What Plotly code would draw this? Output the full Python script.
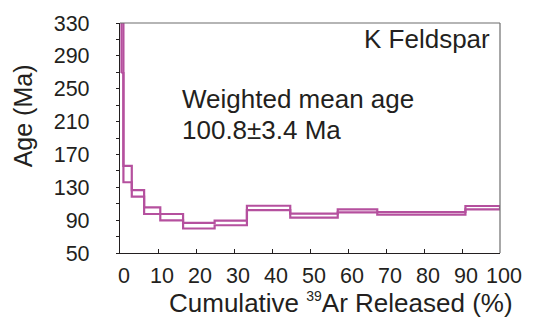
import plotly.graph_objects as go

# Step-heating age spectrum, K-feldspar: each heating step spans a range of
# cumulative 39Ar released, with the upper/lower bounds of its apparent age.
step_start = 0.4
step_end = [0.9, 3.1, 6.35, 10.6, 16.6, 24.9, 33.4, 44.8, 57.3, 67.7, 90.9, 100.0]
age_upper = [345.0, 156.1, 126.5, 105.5, 97.5, 86.7, 89.4, 107.5, 97.9, 103.1, 99.9, 107.2]
age_lower = [269.1, 136.1, 118.7, 97.5, 89.8, 79.8, 83.8, 102.3, 93.0, 99.4, 96.7, 103.1]

y_ticks = [50, 90, 130, 170, 210, 250, 290, 330]
x_ticks = [0, 10, 20, 30, 40, 50, 60, 70, 80, 90, 100]

mineral = "K Feldspar"
mean_label = "Weighted mean age"
mean_value = "100.8±3.4 Ma"

LINE = "#b5509e"
INK = "#231f20"
FONT = "Liberation Sans, Arial, Helvetica, sans-serif"

xs = [step_start] + step_end

fig = go.Figure()
for ages in (age_upper, age_lower):
    fig.add_trace(go.Scatter(
        x=xs, y=ages + [ages[-1]], mode="lines", line_shape="hv",
        line=dict(color=LINE, width=2.2), hoverinfo="skip", showlegend=False,
    ))
# close the spectrum at both ends
fig.add_trace(go.Scatter(x=[step_start, step_start], y=[age_lower[0], age_upper[0]],
                         mode="lines", line=dict(color=LINE, width=2.2),
                         hoverinfo="skip", showlegend=False))
fig.add_trace(go.Scatter(x=[step_end[-1], step_end[-1]], y=[age_lower[-1], age_upper[-1]],
                         mode="lines", line=dict(color=LINE, width=2.2),
                         hoverinfo="skip", showlegend=False))

fig.update_layout(
    width=536, height=328,
    margin=dict(l=120, r=36, t=21, b=75),
    paper_bgcolor="white", plot_bgcolor="white",
    font=dict(family=FONT, color=INK),
    xaxis=dict(
        range=[0, 100], tickvals=x_ticks, ticktext=[str(v) for v in x_ticks],
        ticks="inside", ticklen=4, tickcolor=INK, tickwidth=1,
        showline=True, linecolor=INK, linewidth=1.3, showgrid=False, zeroline=False,
        tickfont=dict(size=21.5, color=INK), ticklabelstandoff=3, ticklabelshift=4,
    ),
    yaxis=dict(
        range=[50, 330], tickvals=y_ticks, ticktext=[str(v) for v in y_ticks],
        ticks="outside", ticklen=3, tickcolor=INK, tickwidth=1,
        minor=dict(tickvals=list(range(50, 331, 20)), ticks="outside", ticklen=3,
                   tickcolor=INK, tickwidth=1, showgrid=False),
        showline=True, linecolor=INK, linewidth=1.3, showgrid=False, zeroline=False,
        tickfont=dict(size=21.5, color=INK), ticklabelstandoff=22,
    ),
    shapes=[
        dict(type="line", xref="paper", yref="paper", x0=0, x1=1, y0=1, y1=1,
             line=dict(color="#6d6d6d", width=1.2)),
        dict(type="line", xref="paper", yref="paper", x0=1, x1=1, y0=0, y1=1,
             line=dict(color="#6d6d6d", width=1.2)),
    ],
    annotations=[
        dict(text="Cumulative <sup><span style='font-size:14px'>39</span></sup>Ar Released (%)",
             xref="paper", yref="paper",
             x=0.581, y=-0.218, xanchor="center", yanchor="middle", showarrow=False,
             font=dict(size=26, color=INK)),
        dict(text="Age (Ma)", xref="paper", yref="paper", textangle=-90,
             x=-0.253, y=0.598, xanchor="center", yanchor="middle", showarrow=False,
             font=dict(size=25, color=INK)),
        dict(text=mineral, x=97.8, y=310.4, xanchor="right", yanchor="middle",
             showarrow=False, font=dict(size=26, color=INK)),
        dict(text=mean_label, x=15.9, y=237.6, xanchor="left", yanchor="middle",
             showarrow=False, font=dict(size=26, color=INK)),
        dict(text=mean_value, x=15.9, y=199.5, xanchor="left", yanchor="middle",
             showarrow=False, font=dict(size=26, color=INK)),
    ],
)

fig.write_html("out.html")
